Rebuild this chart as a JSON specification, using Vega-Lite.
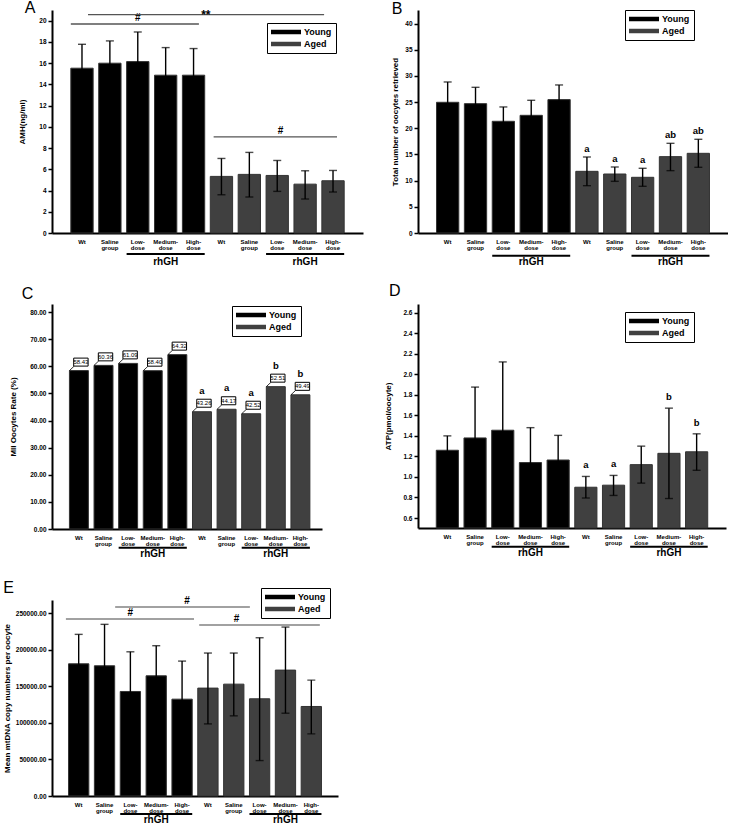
{
"$schema": "https://vega.github.io/schema/vega-lite/v6.json",
"background": "white",
"padding": {"left": 3, "top": 0, "right": 0, "bottom": 0},
"config": {
 "font": "Liberation Sans",
 "view": {"stroke": null},
 "axis": {"grid": false, "labelOverlap": false, "domainColor": "black", "domainWidth": 2, "tickColor": "black", "tickWidth": 1.5, "tickSize": 4, "labelFontSize": 6.5, "labelFontWeight": "bold", "labelColor": "black", "labelPadding": 2, "titleFontSize": 8, "titleFontWeight": "bold", "titleColor": "black"},
 "axisX": {"ticks": false, "labelAngle": 0, "labelFontSize": 6, "labelLineHeight": 6.5, "labelPadding": 5},
 "title": {"fontSize": 16, "fontWeight": "normal", "anchor": "start", "frame": "bounds", "color": "black"}
},
"datasets": {
 "A": [
  {"grp":"Young","key":"Y Wt","mean":15.52,"lo":13.27,"hi":17.77},
  {"grp":"Young","key":"Y Saline|group","mean":15.99,"lo":13.89,"hi":18.09},
  {"grp":"Young","key":"Y Low-|dose","mean":16.14,"lo":13.35,"hi":18.93},
  {"grp":"Young","key":"Y Medium-|dose","mean":14.86,"lo":12.26,"hi":17.46},
  {"grp":"Young","key":"Y High-|dose","mean":14.86,"lo":12.35,"hi":17.37},
  {"grp":"Aged","key":"A Wt","mean":5.33,"lo":3.6,"hi":7.02},
  {"grp":"Aged","key":"A Saline|group","mean":5.52,"lo":3.39,"hi":7.59},
  {"grp":"Aged","key":"A Low-|dose","mean":5.42,"lo":3.92,"hi":6.83},
  {"grp":"Aged","key":"A Medium-|dose","mean":4.6,"lo":3.2,"hi":5.86},
  {"grp":"Aged","key":"A High-|dose","mean":4.92,"lo":3.86,"hi":5.89}
 ],
 "B": [
  {"grp":"Young","key":"Y Wt","mean":24.97,"lo":21.09,"hi":28.85},
  {"grp":"Young","key":"Y Saline|group","mean":24.71,"lo":21.59,"hi":27.83},
  {"grp":"Young","key":"Y Low-|dose","mean":21.34,"lo":18.6,"hi":24.08},
  {"grp":"Young","key":"Y Medium-|dose","mean":22.48,"lo":19.61,"hi":25.35},
  {"grp":"Young","key":"Y High-|dose","mean":25.48,"lo":22.68,"hi":28.28},
  {"grp":"Aged","key":"A Wt","mean":11.78,"lo":9.04,"hi":14.52,"letter":"a"},
  {"grp":"Aged","key":"A Saline|group","mean":11.27,"lo":9.87,"hi":12.61,"letter":"a"},
  {"grp":"Aged","key":"A Low-|dose","mean":10.64,"lo":8.92,"hi":12.36,"letter":"a"},
  {"grp":"Aged","key":"A Medium-|dose","mean":14.59,"lo":11.91,"hi":17.13,"letter":"ab"},
  {"grp":"Aged","key":"A High-|dose","mean":15.22,"lo":12.55,"hi":17.9,"letter":"ab"}
 ],
 "C": [
  {"grp":"Young","key":"Y Wt","mean":58.43},
  {"grp":"Young","key":"Y Saline|group","mean":60.36},
  {"grp":"Young","key":"Y Low-|dose","mean":61.09},
  {"grp":"Young","key":"Y Medium-|dose","mean":58.40},
  {"grp":"Young","key":"Y High-|dose","mean":64.32},
  {"grp":"Aged","key":"A Wt","mean":43.26,"letter":"a"},
  {"grp":"Aged","key":"A Saline|group","mean":44.17,"letter":"a"},
  {"grp":"Aged","key":"A Low-|dose","mean":42.52,"letter":"a"},
  {"grp":"Aged","key":"A Medium-|dose","mean":52.51,"letter":"b"},
  {"grp":"Aged","key":"A High-|dose","mean":49.49,"letter":"b"}
 ],
 "D": [
  {"grp":"Young","key":"Y Wt","mean":1.26,"lo":1.12,"hi":1.40},
  {"grp":"Young","key":"Y Saline|group","mean":1.38,"lo":0.885,"hi":1.875},
  {"grp":"Young","key":"Y Low-|dose","mean":1.455,"lo":0.79,"hi":2.12},
  {"grp":"Young","key":"Y Medium-|dose","mean":1.14,"lo":0.80,"hi":1.48},
  {"grp":"Young","key":"Y High-|dose","mean":1.165,"lo":0.925,"hi":1.405},
  {"grp":"Aged","key":"A Wt","mean":0.90,"lo":0.795,"hi":1.005,"letter":"a"},
  {"grp":"Aged","key":"A Saline|group","mean":0.92,"lo":0.82,"hi":1.015,"letter":"a"},
  {"grp":"Aged","key":"A Low-|dose","mean":1.12,"lo":0.94,"hi":1.30},
  {"grp":"Aged","key":"A Medium-|dose","mean":1.23,"lo":0.79,"hi":1.67,"letter":"b"},
  {"grp":"Aged","key":"A High-|dose","mean":1.245,"lo":1.065,"hi":1.42,"letter":"b"}
 ],
 "E": [
  {"grp":"Young","key":"Y Wt","mean":180600,"lo":140400,"hi":220800},
  {"grp":"Young","key":"Y Saline|group","mean":177900,"lo":121300,"hi":234500},
  {"grp":"Young","key":"Y Low-|dose","mean":142800,"lo":88600,"hi":197000},
  {"grp":"Young","key":"Y Medium-|dose","mean":164200,"lo":123100,"hi":205300},
  {"grp":"Young","key":"Y High-|dose","mean":132300,"lo":80300,"hi":184300},
  {"grp":"Aged","key":"A Wt","mean":147400,"lo":98500,"hi":195300},
  {"grp":"Aged","key":"A Saline|group","mean":152800,"lo":109500,"hi":195300},
  {"grp":"Aged","key":"A Low-|dose","mean":132800,"lo":48400,"hi":216200},
  {"grp":"Aged","key":"A Medium-|dose","mean":172000,"lo":113100,"hi":230800},
  {"grp":"Aged","key":"A High-|dose","mean":122300,"lo":84900,"hi":158300}
 ],
 "rh": [
  {"from":"Y Low-|dose","to":"Y High-|dose","mid":"Y Medium-|dose","label":"rhGH"},
  {"from":"A Low-|dose","to":"A High-|dose","mid":"A Medium-|dose","label":"rhGH"}
 ]
},
"bounds": "flush",
"columns": 2,
"spacing": {"row": 71, "column": 55},
"resolve": {"scale": {"color": "independent"}, "legend": {"color": "independent"}},
"concat": [
 {
  "width": 311, "height": 223,
  "title": {"text": "A", "dx": 6, "offset": -7.7},
  "layer": [
   {"data": {"name": "A"}, "layer": [
    {"mark": {"type": "bar", "stroke": "#333", "strokeWidth": 1},
     "encoding": {
      "x": {"field": "key", "type": "nominal", "title": null, "scale": {"domain": ["Y Wt","Y Saline|group","Y Low-|dose","Y Medium-|dose","Y High-|dose","A Wt","A Saline|group","A Low-|dose","A Medium-|dose","A High-|dose"], "paddingInner": 0.2, "paddingOuter": 0.675}, "axis": {"labelExpr": "split(substring(datum.value, 2), '|')"}},
      "y": {"field": "mean", "type": "quantitative", "title": "AMH(ng/ml)", "scale": {"domain": [0, 21], "nice": false}, "axis": {"values": [0,2,4,6,8,10,12,14,16,18,20], "tickCount": 30, "format": "d", "titlePadding": 12}},
      "color": {"field": "grp", "type": "nominal", "scale": {"domain": ["Young","Aged"], "range": ["#000000","#404040"]}, "legend": {"title": null, "orient": "none", "legendX": 215, "legendY": 13, "strokeColor": "black", "fillColor": "white", "padding": 4, "symbolType": "M-1,-0.45H5V0.45H-1Z", "symbolSize": 100, "symbolStrokeWidth": 0, "labelOffset": 23, "labelFontSize": 9, "labelFontWeight": "bold", "labelColor": "black", "rowPadding": 2}}
     }},
    {"mark": {"type": "rule", "color": "black", "strokeWidth": 1.4}, "encoding": {"x": {"field": "key", "type": "nominal", "title": null}, "y": {"field": "lo", "type": "quantitative"}, "y2": {"field": "hi"}}},
    {"mark": {"type": "tick", "color": "black", "thickness": 1.4, "size": 8}, "encoding": {"x": {"field": "key", "type": "nominal", "title": null}, "y": {"field": "hi", "type": "quantitative"}}},
    {"mark": {"type": "tick", "color": "black", "thickness": 1.4, "size": 8}, "encoding": {"x": {"field": "key", "type": "nominal", "title": null}, "y": {"field": "lo", "type": "quantitative"}}}
   ]},
   {"data": {"values": [{"from": "Y Wt", "to": "Y High-|dose", "y": 19.68}]}, "mark": {"type": "rule", "color": "#555", "strokeWidth": 1.3}, "encoding": {"x": {"field": "from", "type": "nominal", "bandPosition": 0, "title": null}, "x2": {"field": "to", "bandPosition": 0.74}, "y": {"field": "y", "type": "quantitative"}}},
   {"data": {"values": [{"at": "Y Low-|dose", "y": 19.68, "label": "#"}]}, "mark": {"type": "text", "fontSize": 10, "fontWeight": "bold", "baseline": "bottom", "dy": -1}, "encoding": {"x": {"field": "at", "type": "nominal", "title": null}, "y": {"field": "y", "type": "quantitative"}, "text": {"field": "label"}}},
   {"data": {"values": [{"from": "Y Wt", "to": "A High-|dose", "y": 20.56}]}, "mark": {"type": "rule", "color": "#555", "strokeWidth": 1.3}, "encoding": {"x": {"field": "from", "type": "nominal", "bandPosition": 0.77, "title": null}, "x2": {"field": "to", "bandPosition": 0.1}, "y": {"field": "y", "type": "quantitative"}}},
   {"data": {"values": [{"at": "A Wt", "y": 20.56, "label": "**"}]}, "mark": {"type": "text", "fontSize": 12, "fontWeight": "bold", "baseline": "alphabetic", "dy": 4}, "encoding": {"x": {"field": "at", "type": "nominal", "bandPosition": -0.2, "title": null}, "y": {"field": "y", "type": "quantitative"}, "text": {"field": "label"}}},
   {"data": {"values": [{"from": "A Wt", "to": "A High-|dose", "y": 9.06}]}, "mark": {"type": "rule", "color": "#555", "strokeWidth": 1.3}, "encoding": {"x": {"field": "from", "type": "nominal", "bandPosition": 0.15, "title": null}, "x2": {"field": "to", "bandPosition": 0.68}, "y": {"field": "y", "type": "quantitative"}}},
   {"data": {"values": [{"at": "A Low-|dose", "y": 9.06, "label": "#"}]}, "mark": {"type": "text", "fontSize": 10, "fontWeight": "bold", "baseline": "bottom", "dy": -1}, "encoding": {"x": {"field": "at", "type": "nominal", "bandPosition": 0.65, "title": null}, "y": {"field": "y", "type": "quantitative"}, "text": {"field": "label"}}},
   {"data": {"name": "rh"}, "layer": [
    {"mark": {"type": "rule", "color": "black", "strokeWidth": 2, "yOffset": 21}, "encoding": {"x": {"field": "from", "type": "nominal", "bandPosition": 0, "title": null}, "x2": {"field": "to", "bandPosition": 1}, "y": {"datum": 0}}},
    {"mark": {"type": "text", "fontSize": 10, "fontWeight": "bold", "baseline": "middle", "yOffset": 29}, "encoding": {"x": {"field": "mid", "type": "nominal", "title": null}, "y": {"datum": 0}, "text": {"field": "label"}}}
   ]}
  ]
 },
 {
  "width": 310, "height": 223,
  "title": {"text": "B", "dx": 0, "offset": -7.7},
  "layer": [
   {"data": {"name": "B"}, "layer": [
    {"mark": {"type": "bar", "stroke": "#333", "strokeWidth": 1},
     "encoding": {
      "x": {"field": "key", "type": "nominal", "title": null, "scale": {"domain": ["Y Wt","Y Saline|group","Y Low-|dose","Y Medium-|dose","Y High-|dose","A Wt","A Saline|group","A Low-|dose","A Medium-|dose","A High-|dose"], "paddingInner": 0.2, "paddingOuter": 0.665}, "axis": {"labelExpr": "split(substring(datum.value, 2), '|')"}},
      "y": {"field": "mean", "type": "quantitative", "title": "Total number of oocytes retrieved", "scale": {"domain": [0, 42.6], "nice": false}, "axis": {"values": [0,5,10,15,20,25,30,35,40], "tickCount": 30, "format": "d", "titlePadding": 5}},
      "color": {"field": "grp", "type": "nominal", "scale": {"domain": ["Young","Aged"], "range": ["#000000","#404040"]}, "legend": {"title": null, "orient": "none", "legendX": 207, "legendY": 0, "strokeColor": "black", "fillColor": "white", "padding": 4, "symbolType": "M-1,-0.45H5V0.45H-1Z", "symbolSize": 100, "symbolStrokeWidth": 0, "labelOffset": 23, "labelFontSize": 9, "labelFontWeight": "bold", "labelColor": "black", "rowPadding": 2}}
     }},
    {"mark": {"type": "rule", "color": "black", "strokeWidth": 1.4}, "encoding": {"x": {"field": "key", "type": "nominal", "title": null}, "y": {"field": "lo", "type": "quantitative"}, "y2": {"field": "hi"}}},
    {"mark": {"type": "tick", "color": "black", "thickness": 1.4, "size": 8}, "encoding": {"x": {"field": "key", "type": "nominal", "title": null}, "y": {"field": "hi", "type": "quantitative"}}},
    {"mark": {"type": "tick", "color": "black", "thickness": 1.4, "size": 8}, "encoding": {"x": {"field": "key", "type": "nominal", "title": null}, "y": {"field": "lo", "type": "quantitative"}}},
    {"transform": [{"filter": "datum.letter"}], "mark": {"type": "text", "fontSize": 9.5, "fontWeight": "bold", "baseline": "alphabetic", "dy": -5}, "encoding": {"x": {"field": "key", "type": "nominal", "title": null}, "y": {"field": "hi", "type": "quantitative"}, "text": {"field": "letter"}}}
   ]},
   {"data": {"name": "rh"}, "layer": [
    {"mark": {"type": "rule", "color": "black", "strokeWidth": 2, "yOffset": 22.7}, "encoding": {"x": {"field": "from", "type": "nominal", "bandPosition": 0, "title": null}, "x2": {"field": "to", "bandPosition": 1}, "y": {"datum": 0}}},
    {"mark": {"type": "text", "fontSize": 10, "fontWeight": "bold", "baseline": "middle", "yOffset": 29}, "encoding": {"x": {"field": "mid", "type": "nominal", "title": null}, "y": {"datum": 0}, "text": {"field": "label"}}}
   ]}
  ]
 },
 {
  "width": 270, "height": 225,
  "title": {"text": "C", "dx": 12, "offset": 2},
  "layer": [
   {"data": {"name": "C"}, "layer": [
    {"mark": {"type": "bar", "stroke": "#333", "strokeWidth": 1},
     "encoding": {
      "x": {"field": "key", "type": "nominal", "title": null, "scale": {"domain": ["Y Wt","Y Saline|group","Y Low-|dose","Y Medium-|dose","Y High-|dose","A Wt","A Saline|group","A Low-|dose","A Medium-|dose","A High-|dose"], "paddingInner": 0.23, "paddingOuter": 0.6, "align": 0.59}, "axis": {"labelExpr": "split(substring(datum.value, 2), '|')"}},
      "y": {"field": "mean", "type": "quantitative", "title": "MII Oocytes Rate (%)", "scale": {"domain": [0, 83.0], "nice": false}, "axis": {"values": [0,10,20,30,40,50,60,70,80], "tickCount": 30, "format": ".2f", "titlePadding": 12}},
      "color": {"field": "grp", "type": "nominal", "scale": {"domain": ["Young","Aged"], "range": ["#000000","#404040"]}, "legend": {"title": null, "orient": "none", "legendX": 180, "legendY": 2, "strokeColor": "black", "fillColor": "white", "padding": 4, "symbolType": "M-1,-0.45H5V0.45H-1Z", "symbolSize": 100, "symbolStrokeWidth": 0, "labelOffset": 23, "labelFontSize": 9, "labelFontWeight": "bold", "labelColor": "black", "rowPadding": 2}}
     }},
    {"mark": {"type": "rule", "color": "black", "strokeWidth": 0.8, "y2Offset": -4.5}, "encoding": {"x": {"field": "key", "type": "nominal", "bandPosition": 0, "title": null}, "x2": {"field": "key", "bandPosition": 0.25}, "y": {"field": "mean", "type": "quantitative"}, "y2": {"field": "mean"}}},
    {"mark": {"type": "point", "shape": "M-1.8,-1H1.8V1H-1.8Z", "size": 64, "filled": true, "fill": "white", "stroke": "black", "strokeWidth": 1, "opacity": 1, "yOffset": -8.5, "xOffset": 2}, "encoding": {"x": {"field": "key", "type": "nominal", "title": null}, "y": {"field": "mean", "type": "quantitative"}}},
    {"mark": {"type": "text", "fontSize": 6, "baseline": "middle", "yOffset": -8.5, "xOffset": 2}, "encoding": {"x": {"field": "key", "type": "nominal", "title": null}, "y": {"field": "mean", "type": "quantitative"}, "text": {"field": "mean", "type": "quantitative", "format": ".2f"}}},
    {"transform": [{"filter": "datum.letter"}], "mark": {"type": "text", "fontSize": 9.5, "fontWeight": "bold", "baseline": "alphabetic", "yOffset": -18}, "encoding": {"x": {"field": "key", "type": "nominal", "title": null}, "y": {"field": "mean", "type": "quantitative"}, "text": {"field": "letter"}}}
   ]},
   {"data": {"name": "rh"}, "layer": [
    {"mark": {"type": "rule", "color": "black", "strokeWidth": 2, "yOffset": 18.7}, "encoding": {"x": {"field": "from", "type": "nominal", "bandPosition": 0, "title": null}, "x2": {"field": "to", "bandPosition": 1}, "y": {"datum": 0}}},
    {"mark": {"type": "text", "fontSize": 10, "fontWeight": "bold", "baseline": "middle", "yOffset": 25}, "encoding": {"x": {"field": "mid", "type": "nominal", "title": null}, "y": {"datum": 0}, "text": {"field": "label"}}}
   ]}
  ]
 },
 {
  "width": 308, "height": 224,
  "title": {"text": "D", "dx": 4, "offset": 5},
  "layer": [
   {"data": {"name": "D"}, "layer": [
    {"mark": {"type": "bar", "stroke": "#333", "strokeWidth": 1},
     "encoding": {
      "x": {"field": "key", "type": "nominal", "title": null, "scale": {"domain": ["Y Wt","Y Saline|group","Y Low-|dose","Y Medium-|dose","Y High-|dose","A Wt","A Saline|group","A Low-|dose","A Medium-|dose","A High-|dose"], "paddingInner": 0.2, "paddingOuter": 0.66}, "axis": {"labelExpr": "split(substring(datum.value, 2), '|')"}},
      "y": {"field": "mean", "type": "quantitative", "title": "ATP(pmol/oocyte)", "scale": {"domain": [0.503, 2.684], "nice": false, "zero": false}, "axis": {"values": [0.6,0.8,1.0,1.2,1.4,1.6,1.8,2.0,2.2,2.4,2.6], "tickCount": 30, "format": ".1f", "titlePadding": 10}},
      "y2": {"datum": 0.503},
      "color": {"field": "grp", "type": "nominal", "scale": {"domain": ["Young","Aged"], "range": ["#000000","#404040"]}, "legend": {"title": null, "orient": "none", "legendX": 207, "legendY": 8, "strokeColor": "black", "fillColor": "white", "padding": 4, "symbolType": "M-1,-0.45H5V0.45H-1Z", "symbolSize": 100, "symbolStrokeWidth": 0, "labelOffset": 23, "labelFontSize": 9, "labelFontWeight": "bold", "labelColor": "black", "rowPadding": 2}}
     }},
    {"mark": {"type": "rule", "color": "black", "strokeWidth": 1.4}, "encoding": {"x": {"field": "key", "type": "nominal", "title": null}, "y": {"field": "lo", "type": "quantitative"}, "y2": {"field": "hi"}}},
    {"mark": {"type": "tick", "color": "black", "thickness": 1.4, "size": 8}, "encoding": {"x": {"field": "key", "type": "nominal", "title": null}, "y": {"field": "hi", "type": "quantitative"}}},
    {"mark": {"type": "tick", "color": "black", "thickness": 1.4, "size": 8}, "encoding": {"x": {"field": "key", "type": "nominal", "title": null}, "y": {"field": "lo", "type": "quantitative"}}},
    {"transform": [{"filter": "datum.letter"}], "mark": {"type": "text", "fontSize": 9.5, "fontWeight": "bold", "baseline": "alphabetic", "dy": -8}, "encoding": {"x": {"field": "key", "type": "nominal", "title": null}, "y": {"field": "hi", "type": "quantitative"}, "text": {"field": "letter"}}}
   ]},
   {"data": {"name": "rh"}, "layer": [
    {"mark": {"type": "rule", "color": "black", "strokeWidth": 2, "yOffset": 18.7}, "encoding": {"x": {"field": "from", "type": "nominal", "bandPosition": 0, "title": null}, "x2": {"field": "to", "bandPosition": 1}, "y": {"datum": 0.503}}},
    {"mark": {"type": "text", "fontSize": 10, "fontWeight": "bold", "baseline": "middle", "yOffset": 25}, "encoding": {"x": {"field": "mid", "type": "nominal", "title": null}, "y": {"datum": 0.503}, "text": {"field": "label"}}}
   ]}
  ]
 },
 {
  "width": 286, "height": 196,
  "title": {"text": "E", "dx": 0, "offset": -8},
  "layer": [
   {"data": {"name": "E"}, "layer": [
    {"mark": {"type": "bar", "stroke": "#333", "strokeWidth": 1},
     "encoding": {
      "x": {"field": "key", "type": "nominal", "title": null, "scale": {"domain": ["Y Wt","Y Saline|group","Y Low-|dose","Y Medium-|dose","Y High-|dose","A Wt","A Saline|group","A Low-|dose","A Medium-|dose","A High-|dose"], "paddingInner": 0.215, "paddingOuter": 0.64}, "axis": {"labelExpr": "split(substring(datum.value, 2), '|')"}},
      "y": {"field": "mean", "type": "quantitative", "title": "Mean mtDNA copy numbers per oocyte", "scale": {"domain": [0, 267760], "nice": false}, "axis": {"values": [0,50000,100000,150000,200000,250000], "tickCount": 30, "format": ".2f", "titlePadding": 4}},
      "color": {"field": "grp", "type": "nominal", "scale": {"domain": ["Young","Aged"], "range": ["#000000","#404040"]}, "legend": {"title": null, "orient": "none", "legendX": 209, "legendY": -12, "strokeColor": "black", "fillColor": "white", "padding": 4, "symbolType": "M-1,-0.45H5V0.45H-1Z", "symbolSize": 100, "symbolStrokeWidth": 0, "labelOffset": 23, "labelFontSize": 9, "labelFontWeight": "bold", "labelColor": "black", "rowPadding": 2}}
     }},
    {"mark": {"type": "rule", "color": "black", "strokeWidth": 1.4}, "encoding": {"x": {"field": "key", "type": "nominal", "title": null}, "y": {"field": "lo", "type": "quantitative"}, "y2": {"field": "hi"}}},
    {"mark": {"type": "tick", "color": "black", "thickness": 1.4, "size": 8}, "encoding": {"x": {"field": "key", "type": "nominal", "title": null}, "y": {"field": "hi", "type": "quantitative"}}},
    {"mark": {"type": "tick", "color": "black", "thickness": 1.4, "size": 8}, "encoding": {"x": {"field": "key", "type": "nominal", "title": null}, "y": {"field": "lo", "type": "quantitative"}}}
   ]},
   {"data": {"values": [{"from": "Y Wt", "to": "Y High-|dose", "y": 241800}]}, "mark": {"type": "rule", "color": "#444", "strokeWidth": 1.2}, "encoding": {"x": {"field": "from", "type": "nominal", "bandPosition": -0.13, "title": null}, "x2": {"field": "to", "bandPosition": 1.09}, "y": {"field": "y", "type": "quantitative"}}},
   {"data": {"values": [{"at": "Y Low-|dose", "y": 241800, "label": "#"}]}, "mark": {"type": "text", "fontSize": 10, "fontWeight": "bold", "baseline": "bottom", "dy": -1}, "encoding": {"x": {"field": "at", "type": "nominal", "title": null}, "y": {"field": "y", "type": "quantitative"}, "text": {"field": "label"}}},
   {"data": {"values": [{"from": "Y Low-|dose", "to": "A Low-|dose", "y": 258200}]}, "mark": {"type": "rule", "color": "#444", "strokeWidth": 1.2}, "encoding": {"x": {"field": "from", "type": "nominal", "bandPosition": -0.25, "title": null}, "x2": {"field": "to", "bandPosition": 0.02}, "y": {"field": "y", "type": "quantitative"}}},
   {"data": {"values": [{"at": "Y High-|dose", "y": 258200, "label": "#"}]}, "mark": {"type": "text", "fontSize": 10, "fontWeight": "bold", "baseline": "bottom", "dy": -1}, "encoding": {"x": {"field": "at", "type": "nominal", "bandPosition": 0.75, "title": null}, "y": {"field": "y", "type": "quantitative"}, "text": {"field": "label"}}},
   {"data": {"values": [{"from": "A Wt", "to": "A High-|dose", "y": 233600}]}, "mark": {"type": "rule", "color": "#444", "strokeWidth": 1.2}, "encoding": {"x": {"field": "from", "type": "nominal", "bandPosition": 0.07, "title": null}, "x2": {"field": "to", "bandPosition": 0.92}, "y": {"field": "y", "type": "quantitative"}}},
   {"data": {"values": [{"at": "A Saline|group", "y": 233600, "label": "#"}]}, "mark": {"type": "text", "fontSize": 10, "fontWeight": "bold", "baseline": "bottom", "dy": -1}, "encoding": {"x": {"field": "at", "type": "nominal", "bandPosition": 0.64, "title": null}, "y": {"field": "y", "type": "quantitative"}, "text": {"field": "label"}}},
   {"data": {"name": "rh"}, "layer": [
    {"mark": {"type": "rule", "color": "black", "strokeWidth": 2, "yOffset": 18}, "encoding": {"x": {"field": "from", "type": "nominal", "bandPosition": 0, "title": null}, "x2": {"field": "to", "bandPosition": 1}, "y": {"datum": 0}}},
    {"mark": {"type": "text", "fontSize": 10, "fontWeight": "bold", "baseline": "middle", "yOffset": 24}, "encoding": {"x": {"field": "mid", "type": "nominal", "title": null}, "y": {"datum": 0}, "text": {"field": "label"}}}
   ]}
  ]
 }
]
}
